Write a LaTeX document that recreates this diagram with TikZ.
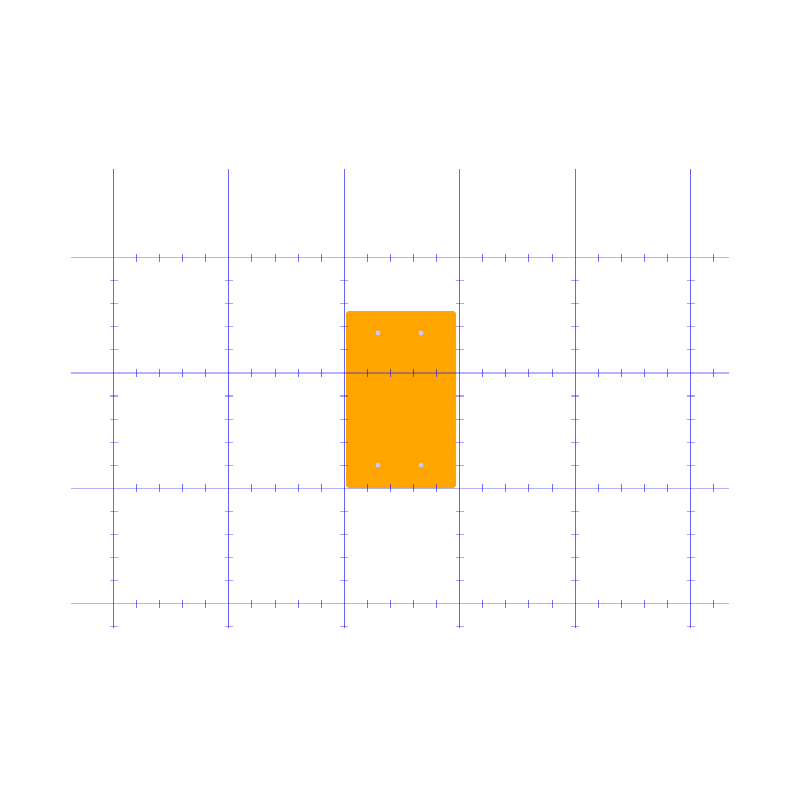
\documentclass[tikz,border=0pt]{standalone}
\begin{document}
\begin{tikzpicture}[x=1pt,y=-1pt,
  vline/.style={draw=blue,opacity=0.6,line width=1pt},
  hline/.style={draw=blue,opacity=0.3,line width=1.2pt},
  vtick/.style={draw=blue,opacity=0.55,line width=1pt},
  htick/.style={draw=blue,opacity=0.35,line width=1.1pt},
  block/.style={fill={rgb,255:red,255;green,165;blue,0},rounded corners=3pt},
  dot/.style={circle,fill={rgb,255:red,200;green,200;blue,240},inner sep=0pt,minimum size=5pt}]
\useasboundingbox (0,0) rectangle (800,800);
% orange block
\fill[block] (346,311) rectangle (456,488);
% vertical lines
\foreach \i in {0,...,5} {
  \pgfmathsetmacro{\xx}{113.5+115.4*\i}
  \draw[vline] (\xx,169) -- (\xx,628);
}
% horizontal lines
\foreach \j in {0,...,3} {
  \pgfmathsetmacro{\yy}{257.5+115.4*\j}
  \draw[hline] (71,\yy) -- (729,\yy);
}
% ticks on horizontal lines
\foreach \j in {0,...,3} {
  \pgfmathsetmacro{\yy}{257.5+115.4*\j}
  \foreach \k in {1,...,26} {
    \pgfmathtruncatemacro{\m}{mod(\k,5)}
    \ifnum\m=0\else
      \pgfmathsetmacro{\xx}{113.5+23.08*\k}
      \draw[vtick] (\xx,\yy-4) -- (\xx,\yy+4);
    \fi
  }
}
% ticks on vertical lines
\foreach \i in {0,...,5} {
  \pgfmathsetmacro{\xx}{113.5+115.4*\i}
  \foreach \k in {1,...,16} {
    \pgfmathtruncatemacro{\m}{mod(\k,5)}
    \ifnum\m=0\else
      \pgfmathsetmacro{\yy}{257.5+23.08*\k}
      \draw[htick] (\xx-4,\yy) -- (\xx+4,\yy);
    \fi
  }
}
% dots
\node[dot] (d1) at (378,333) {};
\node[dot] (d2) at (421,333) {};
\node[dot] (d3) at (378,465) {};
\node[dot] (d4) at (421,465) {};
\end{tikzpicture}
\end{document}
